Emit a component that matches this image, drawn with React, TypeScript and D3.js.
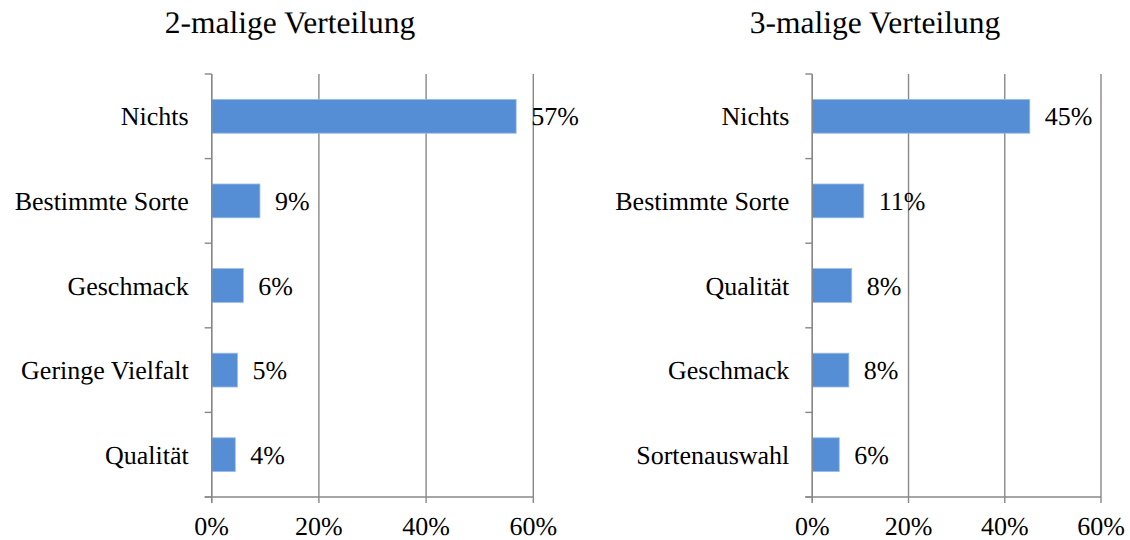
import React, { useEffect, useRef } from "react";
import * as d3 from "d3";

const leftTitle = "2-malige Verteilung";
const leftCategories = ["Nichts", "Bestimmte Sorte", "Geschmack", "Geringe Vielfalt", "Qualität"];
const leftValues = [0.568, 0.09, 0.059, 0.048, 0.044];

const rightTitle = "3-malige Verteilung";
const rightCategories = ["Nichts", "Bestimmte Sorte", "Qualität", "Geschmack", "Sortenauswahl"];
const rightValues = [0.452, 0.107, 0.082, 0.076, 0.056];

const xTicks = [0, 0.2, 0.4, 0.6];

const W = 1130;
const H = 540;
const FONT = "Times New Roman, serif";
const LABEL_SIZE = 26;
const BAR = "#558ed5";
const GRID = "#888888";

type Panel = {
  title: string;
  titleX: number;
  categories: string[];
  values: number[];
  x0: number;
  x1: number;
};

const App = () => {
  const svgRef = useRef<SVGSVGElement>(null);

  useEffect(() => {
    const svg = d3.select(svgRef.current);
    svg.selectAll("*").remove();

    const panels: Panel[] = [
      { title: leftTitle, titleX: 290, categories: leftCategories, values: leftValues, x0: 211.7, x1: 533.3 },
      { title: rightTitle, titleX: 875, categories: rightCategories, values: rightValues, x0: 812.3, x1: 1101 },
    ];
    const top = 74;
    const bottom = 497;
    const fmt = d3.format(".0%");

    panels.forEach((p) => {
      const g = svg
        .append("g")
        .attr("font-family", FONT)
        .attr("text-rendering", "geometricPrecision")
        .attr("fill", "#000");
      const x = d3.scaleLinear().domain([0, 0.6]).range([p.x0, p.x1]);
      const y = d3
        .scaleBand<string>()
        .domain(p.categories)
        .range([top, bottom])
        .paddingInner(0.6)
        .paddingOuter(0.3);
      const step = y.step();
      const edge = (c: string) => (y(c) as number) - step * 0.3;

      // title
      g.append("text")
        .attr("x", p.titleX)
        .attr("y", 33)
        .attr("text-anchor", "middle")
        .attr("font-size", 31.5)
        .text(p.title);

      // vertical gridlines + bottom ticks
      xTicks.forEach((t) => {
        g.append("line")
          .attr("x1", x(t))
          .attr("x2", x(t))
          .attr("y1", top)
          .attr("y2", bottom + 6)
          .attr("stroke", GRID)
          .attr("stroke-width", 1.4);
        g.append("text")
          .attr("x", x(t))
          .attr("y", 535)
          .attr("text-anchor", "middle")
          .attr("font-size", LABEL_SIZE)
          .text(fmt(t));
      });

      // bottom axis line
      g.append("line")
        .attr("x1", p.x0 - 7)
        .attr("x2", p.x1)
        .attr("y1", bottom)
        .attr("y2", bottom)
        .attr("stroke", GRID)
        .attr("stroke-width", 1.4);

      // left category ticks
      const edges = p.categories.map(edge).concat([bottom]);
      edges.forEach((e) => {
        g.append("line")
          .attr("x1", p.x0 - 7)
          .attr("x2", p.x0)
          .attr("y1", e)
          .attr("y2", e)
          .attr("stroke", GRID)
          .attr("stroke-width", 1.4);
      });

      // bars
      g.selectAll(".bar")
        .data(p.values)
        .join("rect")
        .attr("class", "bar")
        .attr("x", x(0))
        .attr("y", (d, i) => y(p.categories[i]) as number)
        .attr("width", (d) => x(d) - x(0))
        .attr("height", y.bandwidth())
        .attr("fill", BAR)
        .attr("stroke", "#9cbde6")
        .attr("stroke-width", 0.8);

      // value labels
      g.selectAll(".val")
        .data(p.values)
        .join("text")
        .attr("class", "val")
        .attr("x", (d) => x(d) + 15)
        .attr("y", (d, i) => (y(p.categories[i]) as number) + y.bandwidth() / 2 + 9)
        .attr("font-size", LABEL_SIZE)
        .text((d) => fmt(d));

      // category labels
      g.selectAll(".cat")
        .data(p.categories)
        .join("text")
        .attr("class", "cat")
        .attr("x", p.x0 - 23)
        .attr("y", (c) => (y(c) as number) + y.bandwidth() / 2 + 9)
        .attr("text-anchor", "end")
        .attr("font-size", LABEL_SIZE)
        .text((c) => c);

      // left axis line
      g.append("line")
        .attr("x1", p.x0)
        .attr("x2", p.x0)
        .attr("y1", top)
        .attr("y2", bottom + 6)
        .attr("stroke", GRID)
        .attr("stroke-width", 1.4);
    });
  }, []);

  return (
    <svg
      ref={svgRef}
      width={W}
      height={H}
      style={{ position: "absolute", left: 0, top: 0, background: "#fff", display: "block" }}
    ></svg>
  );
};

export default App;
